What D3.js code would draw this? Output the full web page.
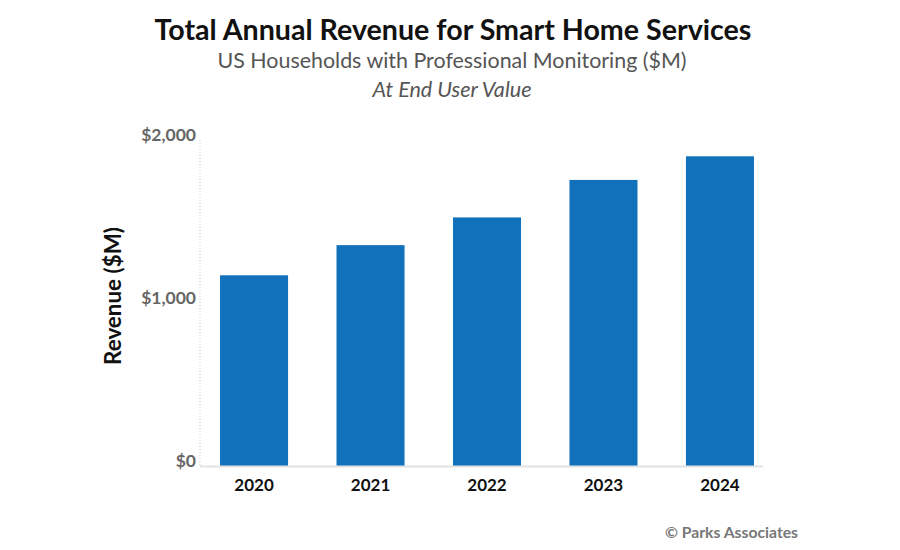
<!DOCTYPE html>
<html><head><meta charset="utf-8">
<script src="https://cdn.jsdelivr.net/npm/d3@7"></script>
<style>
html,body{margin:0;padding:0;background:#fff;}
svg{display:block;font-family:Lato,"Open Sans",sans-serif;}
</style></head>
<body>
<svg id="chart" width="900" height="550"></svg>
<script>
const categories = ["2020", "2021", "2022", "2023", "2024"];
const revenue = [1170, 1355, 1525, 1755, 1900];
const yTicks = [0, 1000, 2000];
const yTickLabels = ["$0", "$1,000", "$2,000"];
const titleText = "Total Annual Revenue for Smart Home Services";
const subtitleText = "US Households with Professional Monitoring ($M)";
const subtitle2Text = "At End User Value";
const yAxisTitle = "Revenue ($M)";
const sourceText = "© Parks Associates";

const svg = d3.select("#chart");

function fit(sel, w) {
  const n = sel.node();
  const fs = parseFloat(sel.attr("font-size"));
  const len = n.getComputedTextLength();
  sel.attr("font-size", (fs * w / len).toFixed(2));
}

const x = d3.scaleBand().domain(categories).range([200, 774]).paddingInner(0.416).paddingOuter(0.172);
const y = d3.scaleLinear().domain([0, 2000]).range([466, 140]);

// titles
fit(svg.append("text").attr("x", 453).attr("y", 40).attr("text-anchor", "middle")
  .attr("font-size", 25).attr("font-weight", 700).attr("fill", "#111").text(titleText), 597);
fit(svg.append("text").attr("x", 452).attr("y", 68).attr("text-anchor", "middle")
  .attr("font-size", 19).attr("fill", "#555").text(subtitleText), 469);
fit(svg.append("text").attr("x", 452).attr("y", 97).attr("text-anchor", "middle")
  .attr("font-size", 18).attr("font-style", "italic").attr("fill", "#555").text(subtitle2Text), 159);

// y axis line (dotted)
svg.append("line").attr("x1", 200).attr("x2", 200).attr("y1", y(2000)).attr("y2", y(0))
  .attr("stroke", "#d9c6cf").attr("stroke-width", 1).attr("stroke-dasharray", "1,2");

// bars
svg.append("g").selectAll("rect").data(revenue).join("rect")
  .attr("x", (d, i) => x(categories[i]))
  .attr("width", x.bandwidth())
  .attr("y", d => y(d))
  .attr("height", d => y(0) - y(d))
  .attr("fill", "#1271bb");

// baseline
svg.append("line").attr("x1", 200).attr("x2", 763).attr("y1", y(0) + 0.5).attr("y2", y(0) + 0.5)
  .attr("stroke", "#e2e2e2").attr("stroke-width", 2);

// y tick labels
const yAxis = d3.axisLeft(y).tickValues(yTicks).tickSize(0).tickPadding(0)
  .tickFormat((d, i) => yTickLabels[i]);
const gy = svg.append("g").attr("transform", "translate(196,-5)").call(yAxis);
gy.select(".domain").remove();
gy.selectAll("text").attr("font-family", "Lato, 'Open Sans', sans-serif")
  .attr("font-size", 17.5).attr("font-weight", 700).attr("fill", "#666");

// x axis labels
const xAxis = d3.axisBottom(x).tickSize(0).tickPadding(0);
const gx = svg.append("g").attr("transform", `translate(0,${y(0)})`).call(xAxis);
gx.select(".domain").remove();
gx.selectAll("text").attr("font-family", "Lato, 'Open Sans', sans-serif")
  .attr("font-size", 17).attr("font-weight", 700).attr("fill", "#111").attr("y", 13);

// y axis title
fit(svg.append("text").attr("transform", "translate(121,296) rotate(-90)").attr("text-anchor", "middle")
  .attr("font-size", 22).attr("font-weight", 700).attr("fill", "#111").text(yAxisTitle), 138);

// source
fit(svg.append("text").attr("x", 798).attr("y", 538).attr("text-anchor", "end")
  .attr("font-size", 15).attr("font-weight", 700).attr("fill", "#777").text(sourceText), 133);
</script>
</body></html>
